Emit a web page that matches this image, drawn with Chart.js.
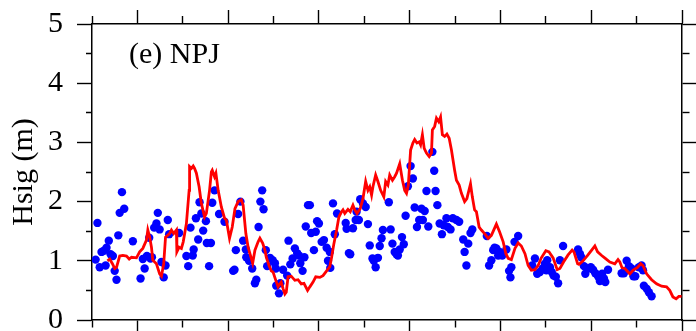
<!DOCTYPE html>
<html>
<head>
<meta charset="utf-8">
<script src="https://cdn.jsdelivr.net/npm/chart.js@4.4.1/dist/chart.umd.min.js"></script>
<style>
  html, body { margin: 0; padding: 0; background: #fff; }
  #wrap { width: 696px; height: 331px; position: relative; }
</style>
</head>
<body>
<div id="wrap"><canvas id="hsigChart"></canvas></div>
<script>
const panelLabel = '(e) NPJ';
const yTitle = 'Hsig (m)';
const hsigTicks = [0, 1, 2, 3, 4, 5];

// modelled significant wave height (red line), x in months from start
const modelX = [
  0.34, 0.39, 0.45, 0.50, 0.54, 0.61, 0.68, 0.76, 0.82, 0.87,
  0.98, 1.05, 1.12, 1.20, 1.23, 1.27, 1.31, 1.34, 1.42, 1.49,
  1.53, 1.58, 1.62, 1.71, 1.75, 1.80, 1.86, 1.87, 1.92, 1.97,
  2.01, 2.08, 2.14, 2.15, 2.19, 2.23, 2.26, 2.30, 2.36, 2.41,
  2.48, 2.52, 2.59, 2.63, 2.65, 2.70, 2.73, 2.78, 2.85, 2.92,
  2.96, 3.03, 3.09, 3.15, 3.22, 3.29, 3.33, 3.39, 3.44, 3.48,
  3.54, 3.59, 3.66, 3.70, 3.76, 3.81, 3.84, 3.90, 3.95, 3.99,
  4.05, 4.10, 4.14, 4.17, 4.21, 4.25, 4.28, 4.32, 4.39, 4.47,
  4.54, 4.61, 4.67, 4.75, 4.80, 4.87, 4.93, 5.02, 5.09, 5.17,
  5.24, 5.28, 5.33, 5.39, 5.44, 5.50, 5.53, 5.57, 5.64, 5.69,
  5.75, 5.79, 5.84, 5.91, 5.97, 6.03, 6.08, 6.12, 6.16, 6.19,
  6.25, 6.30, 6.36, 6.43, 6.47, 6.52, 6.56, 6.62, 6.67, 6.71,
  6.78, 6.84, 6.89, 6.93, 6.97, 7.02, 7.07, 7.11, 7.16, 7.21,
  7.24, 7.28, 7.32, 7.37, 7.43, 7.48, 7.50, 7.55, 7.59, 7.64,
  7.68, 7.72, 7.77, 7.82, 7.87, 7.92, 7.99, 8.03, 8.09, 8.14,
  8.21, 8.26, 8.34, 8.38, 8.43, 8.47, 8.53, 8.58, 8.65, 8.73,
  8.80, 8.91, 8.98, 9.06, 9.12, 9.17, 9.24, 9.32, 9.39, 9.46,
  9.54, 9.61, 9.68, 9.76, 9.83, 9.90, 10.00, 10.07, 10.16, 10.25,
  10.31, 10.39, 10.49, 10.58, 10.62, 10.70, 10.73, 10.82, 10.92, 11.01,
  11.08, 11.14, 11.23, 11.31, 11.41, 11.52, 11.59, 11.63, 11.68, 11.74,
  11.85, 11.92, 12.02, 12.09, 12.14, 12.22, 12.33, 12.44, 12.55, 12.66,
  12.73, 12.80, 12.87, 12.93, 12.99
];
const modelHsig = [
  1.00, 1.03, 0.95, 0.87, 0.89, 1.08, 1.09, 1.08, 1.03, 1.06,
  1.05, 1.15, 1.21, 1.35, 1.52, 1.40, 1.23, 1.01, 0.95, 0.78,
  0.74, 0.95, 1.40, 1.46, 1.52, 1.46, 1.52, 1.15, 1.23, 1.21,
  1.32, 1.63, 2.19, 2.59, 2.56, 2.60, 2.56, 2.48, 2.25, 1.97,
  1.74, 1.80, 2.19, 2.50, 2.53, 2.42, 2.48, 2.19, 1.91, 1.72,
  1.69, 1.38, 1.57, 1.88, 2.00, 2.03, 1.94, 1.46, 1.23, 1.12,
  0.96, 1.18, 1.32, 1.38, 1.30, 1.18, 1.06, 0.92, 0.83, 0.81,
  0.67, 0.56, 0.61, 0.64, 0.53, 0.44, 0.47, 0.73, 0.74, 0.67,
  0.68, 0.61, 0.62, 0.50, 0.56, 0.64, 0.73, 0.72, 0.75, 0.83,
  0.90, 1.06, 1.29, 1.52, 1.74, 1.83, 1.86, 1.80, 1.87, 1.83,
  1.94, 1.86, 1.80, 1.88, 2.05, 2.34, 2.19, 2.25, 2.11, 2.25,
  2.45, 2.34, 2.19, 2.08, 2.34, 2.28, 2.45, 2.36, 2.42, 2.48,
  2.64, 2.36, 2.19, 2.14, 2.28, 2.87, 2.99, 3.05, 2.99, 3.01,
  2.96, 3.13, 2.90, 2.82, 2.76, 2.82, 3.21, 3.27, 3.41, 3.35,
  3.43, 3.13, 3.10, 3.14, 3.07, 2.87, 2.53, 2.36, 2.28, 2.14,
  2.00, 2.05, 2.30, 2.08, 1.86, 1.83, 1.57, 1.52, 1.46, 1.38,
  1.43, 1.62, 1.49, 1.32, 1.12, 1.04, 1.02, 1.21, 1.30, 1.25,
  1.12, 0.92, 0.84, 0.85, 0.92, 1.05, 1.17, 1.15, 1.05, 0.85,
  0.87, 0.98, 1.10, 1.18, 1.15, 0.95, 0.94, 1.00, 1.09, 1.18,
  1.25, 1.15, 1.09, 1.04, 0.98, 0.95, 1.02, 0.98, 0.88, 0.87,
  0.78, 0.84, 0.89, 0.95, 0.92, 0.78, 0.68, 0.61, 0.57, 0.56,
  0.50, 0.39, 0.36, 0.40, 0.40
];

// buoy observations (blue dots)
const obsX = [
  0.08, 0.12, 0.17, 0.21, 0.26, 0.30, 0.32, 0.37, 0.41, 0.46,
  0.50, 0.54, 0.58, 0.61, 0.66, 0.71, 0.90, 1.07, 1.12, 1.16,
  1.21, 1.26, 1.29, 1.32, 1.37, 1.42, 1.45, 1.49, 1.53, 1.58,
  1.62, 1.67, 1.70, 1.92, 2.08, 2.12, 2.17, 2.22, 2.24, 2.29,
  2.34, 2.37, 2.41, 2.45, 2.51, 2.53, 2.58, 2.62, 2.65, 2.70,
  2.80, 2.92, 3.11, 3.14, 3.17, 3.22, 3.27, 3.33, 3.39, 3.40,
  3.46, 3.53, 3.59, 3.62, 3.67, 3.71, 3.75, 3.78, 3.83, 3.86,
  3.92, 3.98, 4.03, 4.05, 4.06, 4.12, 4.15, 4.21, 4.30, 4.33,
  4.37, 4.42, 4.47, 4.52, 4.56, 4.59, 4.64, 4.68, 4.71, 4.76,
  4.80, 4.83, 4.89, 4.93, 4.96, 5.00, 5.06, 5.11, 5.17, 5.20,
  5.24, 5.25, 5.31, 5.35, 5.40, 5.59, 5.61, 5.66, 5.69, 5.75,
  5.81, 5.83, 5.88, 5.91, 5.97, 6.03, 6.08, 6.12, 6.18, 6.21,
  6.25, 6.30, 6.34, 6.38, 6.41, 6.54, 6.58, 6.62, 6.67, 6.71,
  6.74, 6.78, 6.83, 6.87, 6.91, 6.96, 7.02, 7.07, 7.11, 7.16,
  7.21, 7.26, 7.29, 7.33, 7.37, 7.41, 7.50, 7.54, 7.57, 7.61,
  7.66, 7.71, 7.75, 7.81, 7.84, 7.90, 7.95, 8.03, 8.09, 8.18,
  8.21, 8.25, 8.29, 8.34, 8.38, 8.70, 8.75, 8.80, 8.84, 8.87,
  8.91, 8.95, 8.98, 9.04, 9.13, 9.19, 9.22, 9.24, 9.31, 9.39,
  9.70, 9.76, 9.81, 9.87, 9.93, 9.98, 10.03, 10.01, 10.09, 10.13,
  10.17, 10.22, 10.27, 10.31, 10.38, 10.71, 10.75, 10.78, 10.84, 10.87,
  10.93, 10.99, 11.04, 11.09, 11.15, 11.19, 11.24, 11.28, 11.31, 11.37,
  11.67, 11.72, 11.78, 11.83, 11.89, 11.93, 11.97, 12.05, 12.11, 12.14,
  12.16, 12.22, 12.27, 12.33
];
const obsHsig = [
  1.02, 1.64, 0.89, 1.15, 1.17, 0.92, 1.22, 1.34, 1.11, 1.08,
  0.83, 0.68, 1.43, 1.81, 2.16, 1.88, 1.33, 0.70, 1.03, 0.87,
  1.08, 1.39, 1.04, 1.06, 1.56, 1.63, 1.81, 1.53, 0.98, 0.72,
  0.92, 1.69, 1.45, 1.47, 1.08, 0.91, 1.56, 1.09, 1.19, 1.72,
  1.36, 1.99, 1.80, 1.51, 1.67, 1.30, 0.91, 1.30, 1.98, 2.19,
  1.79, 1.66, 0.83, 0.85, 1.18, 1.79, 2.00, 1.34, 1.19, 1.06,
  1.00, 0.87, 0.62, 0.68, 1.57, 2.00, 2.19, 1.87, 1.18, 0.91,
  1.05, 1.01, 0.96, 0.87, 0.58, 0.45, 0.62, 0.85, 0.75, 1.34,
  0.94, 1.04, 1.21, 1.13, 1.09, 0.96, 0.83, 1.06, 1.58, 1.94,
  1.94, 1.47, 1.18, 1.49, 1.67, 1.63, 1.32, 1.35, 1.22, 1.00,
  1.15, 0.88, 1.97, 1.45, 1.80, 1.64, 1.54, 1.13, 1.11, 1.55,
  1.69, 1.83, 1.69, 2.04, 1.97, 1.91, 1.62, 1.26, 1.04, 1.00,
  0.89, 1.05, 1.25, 1.38, 1.52, 1.99, 1.53, 1.29, 1.15, 1.11,
  1.09, 1.19, 1.40, 1.28, 1.76, 2.26, 2.60, 2.39, 1.90, 1.57,
  1.69, 1.88, 1.69, 1.84, 2.18, 1.58, 2.84, 2.52, 2.18, 1.94,
  1.63, 1.45, 1.60, 1.72, 1.57, 1.53, 1.72, 1.69, 1.66, 1.36,
  1.15, 0.92, 1.29, 1.47, 1.53, 1.42, 0.92, 1.01, 1.18, 1.22,
  1.21, 1.09, 1.15, 1.09, 1.19, 0.83, 0.72, 0.89, 1.32, 1.42,
  0.92, 1.04, 0.78, 0.81, 0.87, 0.95, 1.01, 0.84, 0.89, 0.81,
  0.75, 0.73, 0.62, 1.01, 1.25, 1.19, 1.12, 1.06, 0.91, 0.78,
  0.87, 0.89, 0.85, 0.79, 0.74, 0.66, 0.78, 0.70, 0.64, 0.85,
  0.79, 0.79, 1.00, 0.91, 0.87, 0.74, 0.74, 0.89, 0.92, 0.84,
  0.58, 0.53, 0.47, 0.40
];

const serif = "'Liberation Serif', 'Times New Roman', Times, serif";

// axis on one side of the frame; minor ticks are shortened with a dash pattern
function frameAxis(position, majorLen, minorLen, isMajor, extra) {
  const outerFirst = position === 'top' || position === 'left';
  const minorDash = outerFirst ? [0, majorLen - minorLen, minorLen, 1000] : [minorLen, 1000];
  return Object.assign({
    position: position,
    border: { display: true, color: '#000', width: 1.5 },
    grid: {
      drawOnChartArea: false,
      drawTicks: true,
      tickLength: majorLen,
      tickColor: '#000',
      tickWidth: 1.4,
      tickBorderDash: (c) => (c.tick && isMajor(c.tick.value)) ? [] : minorDash
    },
    ticks: { display: false }
  }, extra);
}

// fixed box sizes so the frame sits at the same place whatever the labels need
function fixSize(w, h) {
  return s => {
    if (w !== null) s.width = w;
    if (h !== null) s.height = h;
    s.paddingTop = 0;
    s.paddingBottom = 0;
    s.paddingLeft = 0;
    s.paddingRight = 0;
  };
}

const majorMonth = v => Math.round(v) % 2 === 1;
const majorHsig = v => hsigTicks.includes(v);

const panelLabelPlugin = {
  id: 'panelLabel',
  afterDatasetsDraw(chart) {
    const { ctx, chartArea } = chart;
    ctx.save();
    ctx.font = '30px ' + serif;
    ctx.fillStyle = '#000';
    ctx.textBaseline = 'alphabetic';
    ctx.fillText(panelLabel, chartArea.left + 37, chartArea.top + 39);
    ctx.restore();
  }
};

new Chart(document.getElementById('hsigChart'), {
  type: 'scatter',
  data: {
    datasets: [
      {
        type: 'line',
        label: 'Model',
        data: modelX.map((x, i) => ({ x: x, y: modelHsig[i] })),
        borderColor: '#ff0000',
        borderWidth: 2.8,
        pointRadius: 0,
        tension: 0,
        fill: false
      },
      {
        label: 'Obs',
        data: obsX.map((x, i) => ({ x: x, y: obsHsig[i] })),
        backgroundColor: '#0000ff',
        borderColor: '#0000ff',
        borderWidth: 0,
        pointRadius: 4.2
      }
    ]
  },
  options: {
    responsive: true,
    maintainAspectRatio: false,
    animation: false,
    layout: { padding: 0 },
    plugins: { legend: { display: false }, tooltip: { enabled: false } },
    scales: {
      x: frameAxis('bottom', 14, 7, majorMonth, {
        type: 'linear', min: 0, max: 13,
        ticks: { display: false, stepSize: 1 },
        afterFit: fixSize(null, 11)
      }),
      xTop: frameAxis('top', 14, 8, majorMonth, {
        type: 'linear', min: 0, max: 13,
        ticks: { display: false, stepSize: 1 },
        afterFit: fixSize(null, 24)
      }),
      y: frameAxis('left', 15, 6, majorHsig, {
        type: 'linear', min: 0, max: 5,
        ticks: {
          display: true, stepSize: 0.5, autoSkip: false, padding: 14,
          color: '#000', font: { family: serif, size: 30 },
          callback: v => majorHsig(v) ? String(v) : ''
        },
        title: {
          display: true, text: yTitle, color: '#000',
          font: { family: serif, size: 30 },
          padding: { top: 6, bottom: 0 }
        },
        afterFit: fixSize(92, null)
      }),
      yRight: frameAxis('right', 14, 7, majorHsig, {
        type: 'linear', min: 0, max: 5,
        ticks: { display: false, stepSize: 0.5 },
        afterFit: fixSize(14, null)
      })
    }
  },
  plugins: [panelLabelPlugin]
});
</script>
</body>
</html>
